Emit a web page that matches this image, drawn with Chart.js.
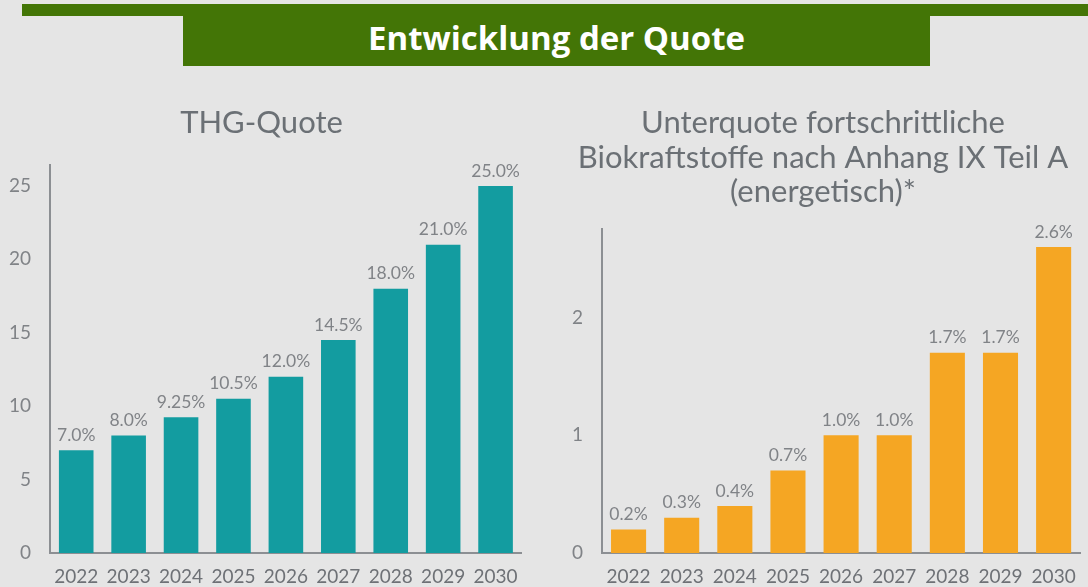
<!DOCTYPE html>
<html lang="de">
<head>
    <meta charset="UTF-8">
    <title>Entwicklung der Quote</title>
    <script src="https://cdn.jsdelivr.net/npm/chart.js"></script>
    <style>
        html, body { margin: 0; padding: 0; }
        body { width: 1088px; height: 587px; background: #e5e5e5; position: relative; overflow: hidden; font-family: Lato, sans-serif; }
        .strip { position: absolute; left: 22px; top: 4px; right: 0; height: 12px; background: #437506; }
        .banner { position: absolute; left: 183px; top: 16px; width: 747px; height: 50px; background: #437506;
                  color: #fff; font-family: "Open Sans", sans-serif; font-weight: 700; font-size: 33px;
                  line-height: 44px; text-align: center; }
        #thgChart { position: absolute; left: 0; top: 0; }
        #unterChart { position: absolute; left: 564px; top: 0; }
    </style>
</head>
<body>
    <div class="strip"></div>
    <div class="banner">Entwicklung der Quote</div>
    <canvas id="thgChart" width="530" height="587"></canvas>
    <canvas id="unterChart" width="524" height="587"></canvas>
    <script>
        const years = ['2022', '2023', '2024', '2025', '2026', '2027', '2028', '2029', '2030'];
        const thgQuote = [7.0, 8.0, 9.25, 10.5, 12.0, 14.5, 18.0, 21.0, 25.0];
        const thgLabels = ['7.0%', '8.0%', '9.25%', '10.5%', '12.0%', '14.5%', '18.0%', '21.0%', '25.0%'];
        const unterQuote = [0.2, 0.3, 0.4, 0.7, 1.0, 1.0, 1.7, 1.7, 2.6];
        const unterLabels = ['0.2%', '0.3%', '0.4%', '0.7%', '1.0%', '1.0%', '1.7%', '1.7%', '2.6%'];

        const grey = '#808387';
        const axisGrey = '#8c8f93';

        // value labels above each bar
        const barLabels = {
            id: 'barLabels',
            afterDatasetsDraw(chart, args, opts) {
                const ctx = chart.ctx;
                const meta = chart.getDatasetMeta(0);
                ctx.save();
                ctx.font = '17.5px Lato';
                ctx.fillStyle = grey;
                ctx.textAlign = 'center';
                ctx.textBaseline = 'middle';
                meta.data.forEach((bar, i) => {
                    ctx.fillText(opts.labels[i], bar.x, bar.y - 15);
                });
                ctx.restore();
            }
        };

        function makeChart(id, values, labels, color, title, yMax, yWidth, padRight, titleBottom) {
            return new Chart(document.getElementById(id), {
                type: 'bar',
                data: {
                    labels: years,
                    datasets: [{
                        data: values,
                        backgroundColor: color,
                        barPercentage: 0.66,
                        categoryPercentage: 1
                    }]
                },
                plugins: [barLabels],
                options: {
                    responsive: false,
                    animation: false,
                    layout: { padding: { left: 0, right: padRight, top: 0, bottom: 0 } },
                    plugins: {
                        legend: { display: false },
                        tooltip: { enabled: false },
                        barLabels: { labels: labels },
                        title: {
                            display: true,
                            text: title,
                            color: '#6b7075',
                            font: { family: 'Lato', size: 31, weight: 'normal', lineHeight: 1.11 },
                            padding: { top: 106, bottom: titleBottom }
                        }
                    },
                    scales: {
                        x: {
                            grid: { display: false, drawTicks: false },
                            border: { display: true, color: axisGrey, width: 2 },
                            ticks: { color: '#6e7176', font: { family: 'Lato', size: 19 }, padding: 12 },
                            afterFit(scale) { scale.height = 34; }
                        },
                        y: {
                            min: 0,
                            max: yMax,
                            grid: { display: false, drawTicks: false },
                            border: { display: true, color: axisGrey, width: 2 },
                            ticks: { stepSize: yMax > 5 ? 5 : 1, includeBounds: false, color: grey,
                                     font: { family: 'Lato', size: 19 }, padding: 19 },
                            afterFit(scale) { scale.width = yWidth; }
                        }
                    }
                }
            });
        }

        makeChart('thgChart', thgQuote, thgLabels, '#139ca0', 'THG-Quote', 26.4, 50, 7, 25);
        makeChart('unterChart', unterQuote, unterLabels, '#f5a623',
            ['Unterquote fortschrittliche', 'Biokraftstoffe nach Anhang IX Teil A', '(energetisch)*'],
            2.75, 38, 6, 20);
    </script>
</body>
</html>
